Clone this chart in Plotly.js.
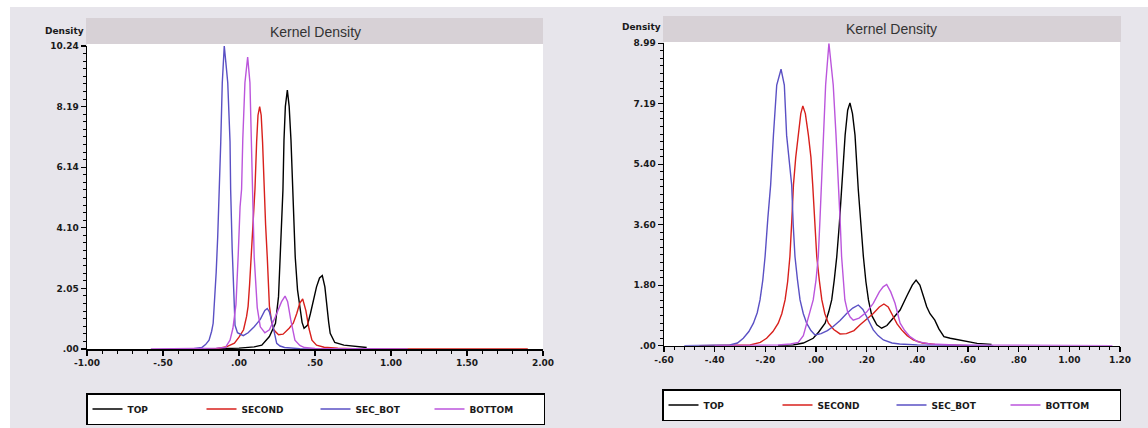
<!DOCTYPE html>
<html>
<head>
<meta charset="utf-8">
<script src="https://cdn.plot.ly/plotly-3.0.1.min.js"></script>
<style>html,body{margin:0;padding:0;background:#fff;}#chart{width:1148px;height:428px;}</style>
</head>
<body>
<div id="chart"></div>
<script>
// ---------- Left panel data ----------
const L_TOP_X = [-0.22,-0.10,0.00,0.10,0.15,0.20,0.24,0.26,0.27,0.28,0.289,0.296,0.305,0.318,0.33,0.342,0.355,0.37,0.385,0.40,0.415,0.428,0.45,0.47,0.489,0.51,0.53,0.548,0.565,0.577,0.59,0.60,0.63,0.69,0.77,0.84];
const L_TOP_Y = [0,0.01,0.03,0.07,0.13,0.42,0.87,1.77,3.1,4.3,5.37,7.06,8.2,8.75,8.2,7.06,5.37,3.1,2.0,1.43,0.9,0.70,0.8,1.2,1.65,2.1,2.4,2.48,2.1,1.43,0.9,0.53,0.22,0.13,0.08,0.05];

const L_SECOND_X = [-0.20,-0.15,-0.08,-0.03,0.00,0.03,0.05,0.06,0.07,0.08,0.095,0.105,0.116,0.125,0.136,0.146,0.155,0.165,0.175,0.186,0.20,0.215,0.23,0.26,0.29,0.33,0.357,0.38,0.40,0.419,0.44,0.46,0.48,0.51,0.56,0.65,0.75,1.00,1.90];
const L_SECOND_Y = [0,0.01,0.08,0.2,0.4,0.65,1.1,1.45,2.2,3.1,4.6,5.4,7.0,7.9,8.19,7.9,7.0,5.4,4.2,3.1,1.45,0.9,0.64,0.48,0.5,0.7,0.87,1.2,1.55,1.69,1.3,0.7,0.3,0.13,0.06,0.03,0.01,0.005,0];

const L_SECBOT_X = [-0.40,-0.30,-0.245,-0.22,-0.197,-0.18,-0.17,-0.16,-0.15,-0.14,-0.13,-0.12,-0.11,-0.097,-0.085,-0.074,-0.059,-0.055,-0.045,-0.035,-0.026,-0.01,0.028,0.06,0.10,0.14,0.17,0.186,0.20,0.22,0.248,0.27,0.30,0.40,0.70];
const L_SECBOT_Y = [0,0.01,0.05,0.15,0.3,0.6,0.87,1.6,2.6,3.8,5.2,7.0,9.0,10.24,9.6,9.0,7.0,5.4,3.4,1.8,0.8,0.55,0.45,0.55,0.75,1.0,1.3,1.37,1.25,0.85,0.19,0.1,0.05,0.01,0];

const L_BOTTOM_X = [-0.58,-0.30,-0.15,-0.09,-0.059,-0.04,-0.02,-0.005,0.007,0.017,0.025,0.039,0.057,0.072,0.08,0.09,0.10,0.12,0.14,0.17,0.20,0.24,0.28,0.303,0.32,0.34,0.368,0.40,0.43,0.50,0.70,1.11];
const L_BOTTOM_Y = [0,0.01,0.03,0.05,0.3,0.7,1.5,3.2,4.8,5.4,7.1,9.0,9.87,9.0,7.1,5.4,3.1,1.4,0.75,0.55,0.65,1.1,1.6,1.79,1.6,1.0,0.3,0.12,0.05,0.02,0.01,0];

// ---------- Right panel data ----------
const R_TOP_X = [-0.15,-0.09,-0.05,-0.011,0.01,0.036,0.05,0.062,0.072,0.082,0.092,0.101,0.115,0.125,0.134,0.144,0.154,0.167,0.177,0.187,0.197,0.207,0.22,0.24,0.259,0.28,0.30,0.332,0.36,0.38,0.395,0.41,0.425,0.437,0.45,0.469,0.485,0.505,0.53,0.563,0.60,0.636,0.693];
const R_TOP_Y = [0,0.02,0.08,0.22,0.40,0.67,1.0,1.36,1.95,2.65,3.6,4.63,6.26,7.0,7.22,6.9,6.26,4.63,3.6,2.65,1.9,1.36,0.9,0.62,0.52,0.6,0.78,1.06,1.5,1.8,1.95,1.8,1.45,1.16,0.95,0.76,0.5,0.27,0.22,0.17,0.12,0.07,0.04];

const R_SECOND_X = [-0.46,-0.35,-0.30,-0.26,-0.22,-0.195,-0.17,-0.149,-0.135,-0.122,-0.112,-0.103,-0.095,-0.089,-0.08,-0.07,-0.06,-0.052,-0.042,-0.03,-0.02,-0.013,-0.005,0.003,0.013,0.023,0.035,0.049,0.07,0.095,0.12,0.15,0.174,0.20,0.226,0.25,0.268,0.285,0.305,0.32,0.338,0.36,0.384,0.42,0.47,0.53,0.60];
const R_SECOND_Y = [0,0.005,0.01,0.02,0.1,0.22,0.42,0.67,0.95,1.36,1.9,2.65,3.8,4.78,5.6,6.26,6.9,7.13,6.9,6.26,5.6,4.78,3.6,2.65,1.95,1.36,0.95,0.67,0.48,0.35,0.36,0.45,0.62,0.78,0.96,1.15,1.24,1.15,0.86,0.65,0.47,0.3,0.17,0.08,0.04,0.02,0];

const R_SECBOT_X = [-0.52,-0.40,-0.34,-0.31,-0.287,-0.265,-0.247,-0.232,-0.221,-0.21,-0.201,-0.19,-0.179,-0.168,-0.155,-0.138,-0.125,-0.116,-0.096,-0.09,-0.083,-0.073,-0.063,-0.05,-0.037,-0.02,-0.004,0.02,0.045,0.068,0.095,0.121,0.145,0.167,0.185,0.20,0.213,0.226,0.245,0.266,0.30,0.33,0.40,0.50,0.70];
const R_SECBOT_Y = [0,0.005,0.02,0.08,0.22,0.42,0.67,0.98,1.36,1.95,2.65,3.8,4.78,6.26,7.75,8.22,7.75,6.26,4.78,3.6,2.65,1.95,1.36,0.95,0.67,0.45,0.32,0.36,0.45,0.57,0.75,0.96,1.12,1.21,1.08,0.86,0.66,0.47,0.3,0.17,0.08,0.05,0.02,0.01,0];

const R_BOTTOM_X = [-0.40,-0.25,-0.15,-0.10,-0.07,-0.05,-0.037,-0.025,-0.011,0.0,0.009,0.016,0.022,0.029,0.038,0.051,0.068,0.079,0.09,0.096,0.101,0.108,0.114,0.125,0.135,0.147,0.17,0.20,0.226,0.25,0.265,0.279,0.295,0.312,0.322,0.332,0.35,0.371,0.40,0.45,0.55,0.70,0.90,1.17];
const R_BOTTOM_Y = [0,0.005,0.02,0.05,0.1,0.3,0.67,0.95,1.36,1.95,2.65,3.8,4.78,6.26,7.75,8.99,7.75,6.26,4.78,3.6,2.65,1.95,1.36,1.0,0.85,0.76,0.82,1.0,1.26,1.6,1.75,1.82,1.6,1.26,0.95,0.67,0.45,0.27,0.12,0.05,0.02,0.01,0.005,0];

// ---------- Tick labels ----------
const L_XTICK_VALS = [-1,-0.5,0,0.5,1,1.5,2];
const L_XTICK_TEXT = ['-1.00','-.50','.00','.50','1.00','1.50','2.00'];
const L_YTICK_VALS = [0,2.048,4.096,6.144,8.192,10.24];
const L_YTICK_TEXT = ['.00','2.05','4.10','6.14','8.19','10.24'];
const R_XTICK_VALS = [-0.6,-0.4,-0.2,0,0.2,0.4,0.6,0.8,1.0,1.2];
const R_XTICK_TEXT = ['-.60','-.40','-.20','.00','.20','.40','.60','.80','1.00','1.20'];
const R_YTICK_VALS = [0,1.798,3.596,5.394,7.192,8.99];
const R_YTICK_TEXT = ['.00','1.80','3.60','5.40','7.19','8.99'];

const SERIES_NAMES = ['TOP','SECOND','SEC_BOT','BOTTOM'];
const COLORS = ['#000000','#d8201c','#5a50c4','#bb55dc'];

// ---------- Build ----------
const W = 1148, H = 428;
const px = v => v / W;
const py = v => 1 - v / H;

const leftData = [[L_TOP_X,L_TOP_Y],[L_SECOND_X,L_SECOND_Y],[L_SECBOT_X,L_SECBOT_Y],[L_BOTTOM_X,L_BOTTOM_Y]];
const rightData = [[R_TOP_X,R_TOP_Y],[R_SECOND_X,R_SECOND_Y],[R_SECBOT_X,R_SECBOT_Y],[R_BOTTOM_X,R_BOTTOM_Y]];

const traces = [];
leftData.forEach((d,i) => traces.push({
  x: d[0], y: d[1], type: 'scatter', mode: 'lines', name: SERIES_NAMES[i],
  line: {color: COLORS[i], width: 1.4}, xaxis: 'x', yaxis: 'y', legend: 'legend'
}));
rightData.forEach((d,i) => traces.push({
  x: d[0], y: d[1], type: 'scatter', mode: 'lines', name: SERIES_NAMES[i],
  line: {color: COLORS[i], width: 1.4}, xaxis: 'x2', yaxis: 'y2', legend: 'legend2'
}));

const tickFont = {family: 'DejaVu Sans', size: 9, weight: 'bold', color: '#1a1a1a'};
function axis(extra){
  return Object.assign({
    showgrid: false, zeroline: false, showline: true, linecolor: '#000', linewidth: 1.5,
    ticks: 'outside', ticklen: 5, tickwidth: 1.2, tickcolor: '#000',
    tickmode: 'array', tickfont: tickFont, fixedrange: true, automargin: false
  }, extra);
}

const legendBase = {
  orientation: 'h', xanchor: 'left', yanchor: 'top',
  bgcolor: '#ffffff', bordercolor: '#000', borderwidth: 1.5,
  font: {family: 'DejaVu Sans', size: 9, weight: 'bold', color: '#1a1a1a'},
  entrywidth: 69, entrywidthmode: 'pixels', tracegroupgap: 0
};

const layout = {
  width: W, height: H,
  margin: {l: 0, r: 0, t: 0, b: 0},
  paper_bgcolor: '#e7e5eb', plot_bgcolor: '#ffffff',
  showlegend: true,
  xaxis: axis({domain: [px(87), px(543)], range: [-1, 2], anchor: 'y',
    tickvals: L_XTICK_VALS, ticktext: L_XTICK_TEXT,
    minor: {tickmode: 'linear', tick0: 0, dtick: 0.1, ticks: 'outside', ticklen: 3, tickcolor: '#000', tickwidth: 1}}),
  yaxis: axis({domain: [py(349), py(46)], range: [0, 10.24], anchor: 'x',
    tickvals: L_YTICK_VALS, ticktext: L_YTICK_TEXT,
    minor: {tickmode: 'linear', tick0: 0, dtick: 0.256, ticks: 'outside', ticklen: 3, tickcolor: '#000', tickwidth: 1}}),
  xaxis2: axis({domain: [px(664), px(1120)], range: [-0.6, 1.2], anchor: 'y2',
    tickvals: R_XTICK_VALS, ticktext: R_XTICK_TEXT,
    minor: {tickmode: 'linear', tick0: 0, dtick: 0.04, ticks: 'outside', ticklen: 3, tickcolor: '#000', tickwidth: 1}}),
  yaxis2: axis({domain: [py(345.7), py(43.3)], range: [0, 8.99], anchor: 'x2',
    tickvals: R_YTICK_VALS, ticktext: R_YTICK_TEXT,
    minor: {tickmode: 'linear', tick0: 0, dtick: 0.22475, ticks: 'outside', ticklen: 3, tickcolor: '#000', tickwidth: 1}}),
  legend: Object.assign({}, legendBase, {x: px(86), y: py(393)}),
  legend2: Object.assign({}, legendBase, {x: px(662), y: py(389)}),
  shapes: [
    {type: 'rect', xref: 'paper', yref: 'paper', x0: 0, x1: 1, y0: py(7), y1: 1, fillcolor: '#ffffff', line: {width: 0}, layer: 'below'},
    {type: 'rect', xref: 'paper', yref: 'paper', x0: 0, x1: px(10), y0: 0, y1: 1, fillcolor: '#ffffff', line: {width: 0}, layer: 'below'},
    {type: 'rect', xref: 'paper', yref: 'paper', x0: px(86), x1: px(543), y0: py(44), y1: py(18), fillcolor: '#d7d1d6', line: {width: 0}, layer: 'below'},
    {type: 'rect', xref: 'paper', yref: 'paper', x0: px(663), x1: px(1121), y0: py(42), y1: py(16), fillcolor: '#d7d1d6', line: {width: 0}, layer: 'below'},
    {type: 'rect', xref: 'paper', yref: 'paper', x0: px(87), x1: px(543), y0: py(349), y1: py(44), fillcolor: '#ffffff', line: {width: 0}, layer: 'below'},
    {type: 'rect', xref: 'paper', yref: 'paper', x0: px(664), x1: px(1120), y0: py(345.7), y1: py(42), fillcolor: '#ffffff', line: {width: 0}, layer: 'below'}
  ],
  annotations: [
    {text: 'Kernel Density', xref: 'paper', yref: 'paper', x: px(315), y: py(31.5), xanchor: 'center', yanchor: 'middle', showarrow: false,
     font: {family: 'Liberation Sans', size: 14, color: '#333'}},
    {text: 'Kernel Density', xref: 'paper', yref: 'paper', x: px(892), y: py(29), xanchor: 'center', yanchor: 'middle', showarrow: false,
     font: {family: 'Liberation Sans', size: 14, color: '#333'}},
    {text: 'Density', xref: 'paper', yref: 'paper', x: px(64), y: py(30.5), xanchor: 'center', yanchor: 'middle', showarrow: false,
     font: {family: 'DejaVu Sans', size: 9, weight: 'bold', color: '#1a1a1a'}},
    {text: 'Density', xref: 'paper', yref: 'paper', x: px(641), y: py(27.3), xanchor: 'center', yanchor: 'middle', showarrow: false,
     font: {family: 'DejaVu Sans', size: 9, weight: 'bold', color: '#1a1a1a'}}
  ]
};

Plotly.newPlot('chart', traces, layout, {displayModeBar: false, staticPlot: true});
</script>
</body>
</html>
